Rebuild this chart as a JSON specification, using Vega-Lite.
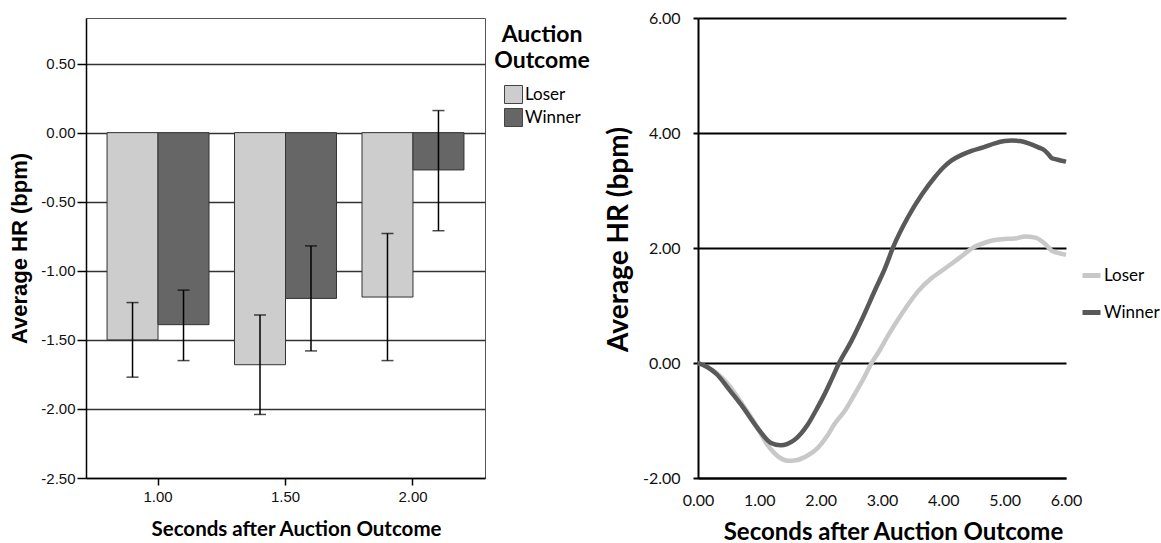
{
  "$schema": "https://vega.github.io/schema/vega-lite/v6.json",
  "background": "white",
  "padding": {"left": 8, "top": 10, "right": 0, "bottom": 0},
  "spacing": 8,
  "config": {
    "view": {"stroke": null},
    "axis": {"labelColor": "#111", "titleColor": "#000", "domainColor": "#000", "tickColor": "#000"}
  },
  "resolve": {"scale": {"color": "independent", "x": "independent", "y": "independent"}, "legend": {"color": "independent"}},
  "hconcat": [
    {
      "width": 399,
      "height": 460,
      "view": {"stroke": "#555", "strokeWidth": 1},
      "data": {"values": [
        {"sec": "1.00", "outcome": "Loser", "hr": -1.50, "lo": -1.77, "hi": -1.23},
        {"sec": "1.00", "outcome": "Winner", "hr": -1.39, "lo": -1.65, "hi": -1.14},
        {"sec": "1.50", "outcome": "Loser", "hr": -1.68, "lo": -2.04, "hi": -1.32},
        {"sec": "1.50", "outcome": "Winner", "hr": -1.20, "lo": -1.58, "hi": -0.82},
        {"sec": "2.00", "outcome": "Loser", "hr": -1.19, "lo": -1.65, "hi": -0.73},
        {"sec": "2.00", "outcome": "Winner", "hr": -0.27, "lo": -0.71, "hi": 0.16}
      ]},
      "encoding": {
        "x": {
          "field": "sec", "type": "nominal",
          "scale": {"paddingInner": 0.2, "paddingOuter": 0.165},
          "axis": {
            "title": "Seconds after Auction Outcome", "labelAngle": 0,
            "labelFont": "Liberation Sans", "labelFontSize": 15, "labelPadding": 4,
            "tickSize": 7, "tickWidth": 1.5, "domainWidth": 1.5,
            "titleFont": "Lato", "titleFontWeight": "bold", "titleFontSize": 20.5, "titlePadding": 15,
            "titleX": 210
          }
        },
        "xOffset": {"field": "outcome", "type": "nominal", "scale": {"paddingInner": 0, "paddingOuter": 0}}
      },
      "layer": [
        {
          "mark": {"type": "bar", "stroke": "#333", "strokeWidth": 1},
          "encoding": {
            "y": {
              "field": "hr", "type": "quantitative",
              "scale": {"domain": [-2.5, 0.83], "nice": false, "zero": false},
              "axis": {
                "title": "Average HR (bpm)",
                "values": [-2.5, -2, -1.5, -1, -0.5, 0, 0.5],
                "labelExpr": "(datum.value < 0 ? '-' : '') + format(abs(datum.value), '.2f')",
                "labelFont": "Liberation Sans", "labelFontSize": 15, "labelPadding": 2,
                "tickSize": 9, "tickWidth": 1.5, "domainWidth": 1.5,
                "grid": true, "gridColor": "#333", "gridWidth": 1.5,
                "titleFont": "Liberation Sans", "titleFontWeight": "bold", "titleFontSize": 22, "titlePadding": 9
              }
            },
            "color": {
              "field": "outcome", "type": "nominal",
              "scale": {"domain": ["Loser", "Winner"], "range": ["#cdcdcd", "#666666"]},
              "legend": {
                "title": ["Auction", "Outcome"], "orient": "right", "offset": 3,
                "titleFont": "Lato", "titleFontWeight": "bold", "titleFontSize": 23, "titleLineHeight": 26,
                "titleAnchor": "middle", "titleAlign": "center", "titleColor": "#000", "titlePadding": 12,
                "labelFont": "Lato", "labelFontSize": 17, "labelColor": "#000", "labelOffset": 2,
                "symbolType": "square", "symbolSize": 324, "symbolStrokeColor": "#444", "symbolStrokeWidth": 1,
                "symbolOpacity": 1, "rowPadding": 0, "padding": 6
              }
            }
          }
        },
        {
          "mark": {"type": "rule", "color": "#000", "strokeWidth": 1.5},
          "encoding": {
            "y": {"field": "lo", "type": "quantitative"},
            "y2": {"field": "hi"}
          }
        },
        {
          "mark": {"type": "tick", "color": "#000", "size": 12, "thickness": 1.5},
          "encoding": {"y": {"field": "lo", "type": "quantitative"}}
        },
        {
          "mark": {"type": "tick", "color": "#000", "size": 12, "thickness": 1.5},
          "encoding": {"y": {"field": "hi", "type": "quantitative"}}
        }
      ]
    },
    {
      "width": 368,
      "height": 460,
      "data": {"values": [
        {"t": 0.0, "group": "Loser", "hr": 0.0},
        {"t": 0.3, "group": "Loser", "hr": -0.17},
        {"t": 0.5, "group": "Loser", "hr": -0.38},
        {"t": 0.7, "group": "Loser", "hr": -0.68},
        {"t": 0.9, "group": "Loser", "hr": -1.0},
        {"t": 1.13, "group": "Loser", "hr": -1.42},
        {"t": 1.3, "group": "Loser", "hr": -1.62},
        {"t": 1.46, "group": "Loser", "hr": -1.7},
        {"t": 1.6, "group": "Loser", "hr": -1.69},
        {"t": 1.8, "group": "Loser", "hr": -1.6},
        {"t": 1.95, "group": "Loser", "hr": -1.48},
        {"t": 2.1, "group": "Loser", "hr": -1.28},
        {"t": 2.22, "group": "Loser", "hr": -1.07},
        {"t": 2.4, "group": "Loser", "hr": -0.82},
        {"t": 2.55, "group": "Loser", "hr": -0.55},
        {"t": 2.7, "group": "Loser", "hr": -0.27},
        {"t": 2.82, "group": "Loser", "hr": -0.02},
        {"t": 2.95, "group": "Loser", "hr": 0.2},
        {"t": 3.1, "group": "Loser", "hr": 0.48},
        {"t": 3.35, "group": "Loser", "hr": 0.9},
        {"t": 3.59, "group": "Loser", "hr": 1.25},
        {"t": 3.8, "group": "Loser", "hr": 1.47},
        {"t": 3.97, "group": "Loser", "hr": 1.6},
        {"t": 4.24, "group": "Loser", "hr": 1.81},
        {"t": 4.51, "group": "Loser", "hr": 2.02},
        {"t": 4.7, "group": "Loser", "hr": 2.1},
        {"t": 4.84, "group": "Loser", "hr": 2.14},
        {"t": 5.06, "group": "Loser", "hr": 2.16},
        {"t": 5.2, "group": "Loser", "hr": 2.17},
        {"t": 5.33, "group": "Loser", "hr": 2.2},
        {"t": 5.5, "group": "Loser", "hr": 2.18},
        {"t": 5.66, "group": "Loser", "hr": 2.07},
        {"t": 5.77, "group": "Loser", "hr": 1.95},
        {"t": 5.85, "group": "Loser", "hr": 1.92},
        {"t": 6.0, "group": "Loser", "hr": 1.88},
        {"t": 0.0, "group": "Winner", "hr": 0.0},
        {"t": 0.15, "group": "Winner", "hr": -0.07},
        {"t": 0.31, "group": "Winner", "hr": -0.2},
        {"t": 0.5, "group": "Winner", "hr": -0.45},
        {"t": 0.7, "group": "Winner", "hr": -0.72},
        {"t": 0.97, "group": "Winner", "hr": -1.13},
        {"t": 1.19, "group": "Winner", "hr": -1.39},
        {"t": 1.35, "group": "Winner", "hr": -1.43},
        {"t": 1.45, "group": "Winner", "hr": -1.41},
        {"t": 1.57, "group": "Winner", "hr": -1.34},
        {"t": 1.79, "group": "Winner", "hr": -1.07},
        {"t": 1.92, "group": "Winner", "hr": -0.83},
        {"t": 2.06, "group": "Winner", "hr": -0.55},
        {"t": 2.18, "group": "Winner", "hr": -0.28},
        {"t": 2.3, "group": "Winner", "hr": 0.0},
        {"t": 2.5, "group": "Winner", "hr": 0.38},
        {"t": 2.66, "group": "Winner", "hr": 0.73},
        {"t": 2.9, "group": "Winner", "hr": 1.3},
        {"t": 3.05, "group": "Winner", "hr": 1.65},
        {"t": 3.18, "group": "Winner", "hr": 2.01},
        {"t": 3.42, "group": "Winner", "hr": 2.53},
        {"t": 3.65, "group": "Winner", "hr": 2.93},
        {"t": 3.86, "group": "Winner", "hr": 3.23},
        {"t": 4.0, "group": "Winner", "hr": 3.4},
        {"t": 4.13, "group": "Winner", "hr": 3.52},
        {"t": 4.3, "group": "Winner", "hr": 3.62},
        {"t": 4.46, "group": "Winner", "hr": 3.69},
        {"t": 4.65, "group": "Winner", "hr": 3.75},
        {"t": 4.84, "group": "Winner", "hr": 3.82},
        {"t": 5.0, "group": "Winner", "hr": 3.86},
        {"t": 5.11, "group": "Winner", "hr": 3.87},
        {"t": 5.25, "group": "Winner", "hr": 3.86},
        {"t": 5.39, "group": "Winner", "hr": 3.82},
        {"t": 5.55, "group": "Winner", "hr": 3.75},
        {"t": 5.66, "group": "Winner", "hr": 3.69},
        {"t": 5.72, "group": "Winner", "hr": 3.62},
        {"t": 5.77, "group": "Winner", "hr": 3.56},
        {"t": 5.85, "group": "Winner", "hr": 3.54},
        {"t": 6.0, "group": "Winner", "hr": 3.5}
      ]},
      "mark": {"type": "line", "strokeWidth": 4.5, "interpolate": "monotone"},
      "encoding": {
        "x": {
          "field": "t", "type": "quantitative",
          "scale": {"domain": [0, 6], "nice": false},
          "axis": {
            "title": "Seconds after Auction Outcome",
            "values": [0, 1, 2, 3, 4, 5, 6], "format": ".2f",
            "grid": false, "ticks": false, "labelPadding": 14, "domainWidth": 2,
            "labelFont": "Lato", "labelFontSize": 16, "labelFlush": false,
            "titleFont": "Lato", "titleFontWeight": "bold", "titleFontSize": 24, "titlePadding": 12,
            "titleX": 195
          }
        },
        "y": {
          "field": "hr", "type": "quantitative",
          "scale": {"domain": [-2, 6], "nice": false},
          "axis": {
            "title": "Average HR (bpm)",
            "values": [-2, 0, 2, 4, 6],
            "labelExpr": "(datum.value < 0 ? '-' : '') + format(abs(datum.value), '.2f')",
            "grid": true, "gridColor": "#000", "gridWidth": 2,
            "tickSize": 5, "tickWidth": 2, "domainWidth": 2, "labelPadding": 13,
            "labelFont": "Lato", "labelFontSize": 16, "labelFlush": false,
            "titleFont": "Lato", "titleFontWeight": "bold", "titleFontSize": 28, "titlePadding": 9,
            "titleY": 221
          }
        },
        "color": {
          "field": "group", "type": "nominal",
          "scale": {"domain": ["Loser", "Winner"], "range": ["#c8c8c8", "#595959"]},
          "legend": {
            "title": null, "orient": "none", "legendX": 382, "legendY": 246,
            "symbolType": "stroke", "symbolSize": 324, "symbolStrokeWidth": 5,
            "labelFont": "Lato", "labelFontSize": 17, "labelColor": "#000", "labelOffset": 1,
            "rowPadding": 15
          }
        }
      }
    }
  ]
}
